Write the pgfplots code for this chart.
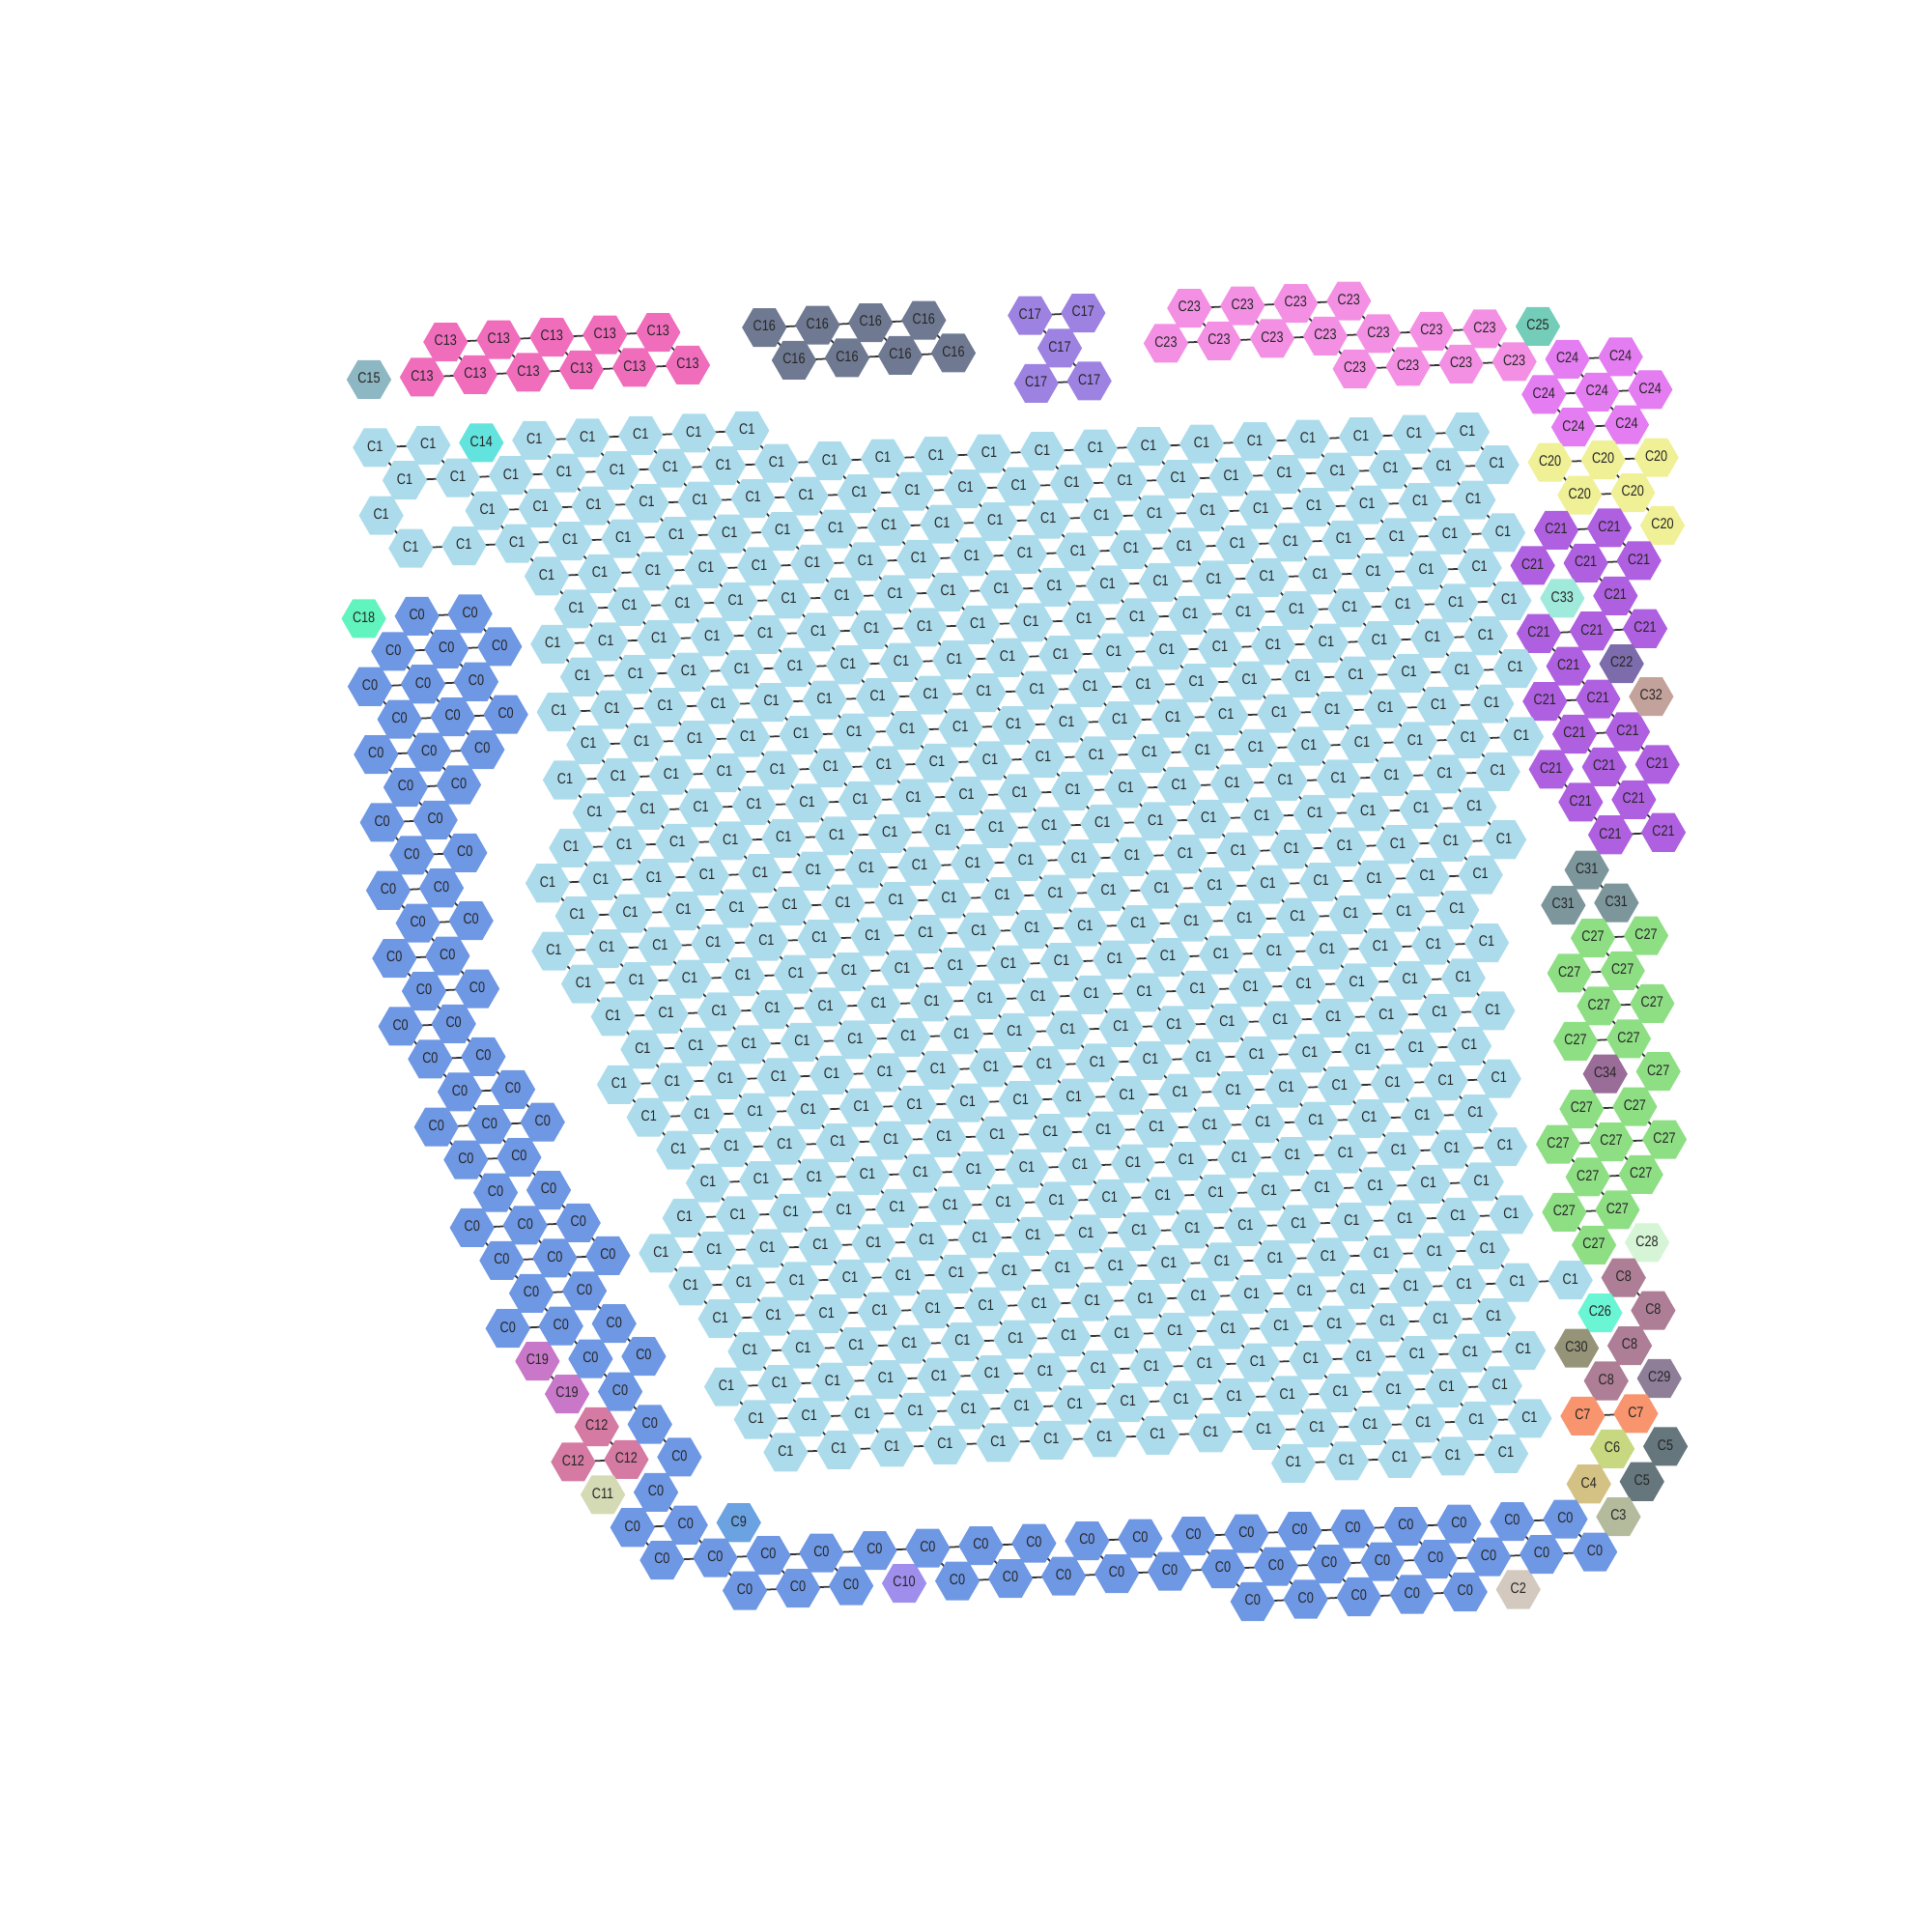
\documentclass[border=0pt]{standalone}
\usepackage{fontspec}
\setmainfont{Liberation Sans}
\newfontfamily\labfam[FakeStretch=0.82]{Liberation Sans}
\newcommand\labfont{\labfam\fontsize{4.4pt}{5pt}\selectfont}
\usepackage{pgfplots}
\usepackage{pgfplotstable}
\pgfplotsset{compat=1.18}

\definecolor{k0}{RGB}{110,151,228}
\definecolor{k1}{RGB}{172,220,236}
\definecolor{k2}{RGB}{211,201,190}
\definecolor{k3}{RGB}{180,186,156}
\definecolor{k4}{RGB}{212,194,132}
\definecolor{k5}{RGB}{101,118,124}
\definecolor{k6}{RGB}{199,216,128}
\definecolor{k7}{RGB}{248,149,110}
\definecolor{k8}{RGB}{173,126,150}
\definecolor{k9}{RGB}{106,162,226}
\definecolor{k10}{RGB}{160,142,236}
\definecolor{k11}{RGB}{212,218,180}
\definecolor{k12}{RGB}{213,122,162}
\definecolor{k13}{RGB}{240,109,188}
\definecolor{k14}{RGB}{98,227,222}
\definecolor{k15}{RGB}{141,183,194}
\definecolor{k16}{RGB}{111,122,146}
\definecolor{k17}{RGB}{157,130,226}
\definecolor{k18}{RGB}{98,244,190}
\definecolor{k19}{RGB}{201,119,201}
\definecolor{k20}{RGB}{240,240,150}
\definecolor{k21}{RGB}{175,96,224}
\definecolor{k22}{RGB}{125,108,172}
\definecolor{k23}{RGB}{244,144,228}
\definecolor{k24}{RGB}{228,124,242}
\definecolor{k25}{RGB}{116,205,184}
\definecolor{k26}{RGB}{106,245,212}
\definecolor{k27}{RGB}{142,223,132}
\definecolor{k28}{RGB}{214,244,214}
\definecolor{k29}{RGB}{142,126,152}
\definecolor{k30}{RGB}{150,148,120}
\definecolor{k31}{RGB}{124,150,156}
\definecolor{k32}{RGB}{196,162,156}
\definecolor{k33}{RGB}{160,234,220}
\definecolor{k34}{RGB}{154,108,152}

% flat-top hexagon marker
\pgfdeclareplotmark{hexagon}{%
  \pgfpathmoveto{\pgfqpoint{\pgfplotmarksize}{0pt}}%
  \pgfpathlineto{\pgfqpoint{0.5\pgfplotmarksize}{0.866\pgfplotmarksize}}%
  \pgfpathlineto{\pgfqpoint{-0.5\pgfplotmarksize}{0.866\pgfplotmarksize}}%
  \pgfpathlineto{\pgfqpoint{-\pgfplotmarksize}{0pt}}%
  \pgfpathlineto{\pgfqpoint{-0.5\pgfplotmarksize}{-0.866\pgfplotmarksize}}%
  \pgfpathlineto{\pgfqpoint{0.5\pgfplotmarksize}{-0.866\pgfplotmarksize}}%
  \pgfpathclose
  \pgfusepathqfillstroke}

% c = column (doubled), r = row, k = cluster, h = edge to right, d = edge to lower right
\pgfplotstableread{
c r k h d
3 -3 13 1 1
5 -3 13 1 1
7 -3 13 1 1
9 -3 13 1 1
11 -3 13 0 1
2 -2 13 1 0
4 -2 13 1 0
6 -2 13 1 0
8 -2 13 1 0
10 -2 13 1 0
12 -2 13 0 0
0 -2 15 0 0
15 -3 16 1 1
17 -3 16 1 1
19 -3 16 1 1
21 -3 16 0 1
16 -2 16 1 0
18 -2 16 1 0
20 -2 16 1 0
22 -2 16 0 0
25 -3 17 1 1
27 -3 17 0 0
26 -2 17 0 1
25 -1 17 1 0
27 -1 17 0 0
31 -3 23 1 1
33 -3 23 1 1
35 -3 23 1 1
37 -3 23 0 1
30 -2 23 1 0
32 -2 23 1 0
34 -2 23 1 0
36 -2 23 1 1
38 -2 23 1 1
40 -2 23 1 1
42 -2 23 0 1
37 -1 23 1 0
39 -1 23 1 0
41 -1 23 1 0
43 -1 23 0 0
44 -2 25 0 0
45 -1 24 1 1
47 -1 24 0 1
44 0 24 1 1
46 0 24 1 1
48 0 24 0 0
45 1 24 1 0
47 1 24 0 0
44 2 20 1 1
46 2 20 1 1
48 2 20 0 0
45 3 20 1 0
47 3 20 0 1
48 4 20 0 0
44 4 21 1 1
46 4 21 0 1
43 5 21 0 0
45 5 21 1 1
47 5 21 0 0
46 6 21 0 1
43 7 21 1 1
45 7 21 1 0
47 7 21 0 0
44 8 21 0 1
43 9 21 1 1
45 9 21 0 1
44 10 21 1 1
46 10 21 0 1
43 11 21 0 1
45 11 21 0 1
47 11 21 0 0
44 12 21 0 1
46 12 21 0 1
45 13 21 1 0
47 13 21 0 0
44 6 33 0 0
46 8 22 0 0
47 9 32 0 0
44 14 31 0 1
43 15 31 0 0
45 15 31 0 0
44 16 27 1 1
46 16 27 0 0
43 17 27 1 1
45 17 27 0 1
44 18 27 1 1
46 18 27 0 0
43 19 27 1 0
45 19 27 0 1
46 20 27 0 0
43 21 27 1 1
45 21 27 0 1
42 22 27 1 1
44 22 27 1 1
46 22 27 0 0
43 23 27 1 1
45 23 27 0 0
42 24 27 1 1
44 24 27 0 0
43 25 27 0 0
44 20 34 0 0
45 25 28 0 0
44 26 8 0 1
45 27 8 0 0
44 28 8 0 0
43 29 8 0 0
43 27 26 0 0
42 28 30 0 0
45 29 29 0 0
42 30 7 1 0
44 30 7 0 0
43 31 6 0 0
45 31 5 0 0
44 32 5 0 0
42 32 4 0 0
43 33 3 0 0
39 35 2 0 0
-1 5 18 0 0
3 27 19 0 1
4 28 19 0 0
5 29 12 0 1
4 30 12 1 0
6 30 12 0 0
5 31 11 0 0
10 32 9 0 0
16 34 10 0 0
4 0 14 0 0
1 5 0 1 1
3 5 0 0 1
0 6 0 1 1
2 6 0 1 1
4 6 0 0 0
-1 7 0 1 1
1 7 0 1 1
3 7 0 0 1
0 8 0 1 1
2 8 0 1 1
4 8 0 0 0
-1 9 0 1 1
1 9 0 1 1
3 9 0 0 0
0 10 0 1 1
2 10 0 0 0
-1 11 0 1 1
1 11 0 0 1
0 12 0 1 1
2 12 0 0 0
-1 13 0 1 1
1 13 0 0 1
0 14 0 1 1
2 14 0 0 0
-1 15 0 1 1
1 15 0 0 1
0 16 0 1 1
2 16 0 0 0
-1 17 0 1 1
1 17 0 0 1
0 18 0 1 1
2 18 0 0 1
1 19 0 1 1
3 19 0 0 1
0 20 0 1 1
2 20 0 1 1
4 20 0 0 0
1 21 0 1 1
3 21 0 0 1
2 22 0 0 1
4 22 0 0 1
1 23 0 1 1
3 23 0 1 1
5 23 0 0 1
2 24 0 1 1
4 24 0 1 1
6 24 0 0 0
3 25 0 1 1
5 25 0 0 1
2 26 0 1 0
4 26 0 0 1
6 26 0 0 1
5 27 0 0 1
7 27 0 0 0
6 28 0 0 1
7 29 0 0 1
8 30 0 0 0
7 31 0 0 1
6 32 0 1 1
8 32 0 0 1
7 33 0 1 0
9 33 0 1 1
11 33 0 1 1
13 33 0 1 1
15 33 0 1 0
17 33 0 1 1
19 33 0 1 1
21 33 0 0 1
23 33 0 1 1
25 33 0 0 1
27 33 0 1 1
29 33 0 1 1
31 33 0 1 1
33 33 0 1 1
35 33 0 1 1
37 33 0 0 1
39 33 0 1 1
41 33 0 0 1
10 34 0 1 0
12 34 0 1 0
14 34 0 0 0
18 34 0 1 0
20 34 0 1 0
22 34 0 1 0
24 34 0 1 0
26 34 0 1 0
28 34 0 1 1
30 34 0 1 1
32 34 0 1 1
34 34 0 1 1
36 34 0 1 1
38 34 0 1 0
40 34 0 1 0
42 34 0 0 0
29 35 0 1 0
31 35 0 1 0
33 35 0 1 0
35 35 0 1 0
37 35 0 0 0
0 0 1 1 1
2 0 1 0 1
6 0 1 1 1
8 0 1 1 1
10 0 1 1 1
12 0 1 1 1
14 0 1 0 1
1 1 1 1 0
3 1 1 1 1
5 1 1 1 1
7 1 1 1 1
9 1 1 1 1
11 1 1 1 1
13 1 1 1 1
15 1 1 1 1
17 1 1 1 1
19 1 1 1 1
21 1 1 1 1
23 1 1 1 1
25 1 1 1 1
27 1 1 1 1
29 1 1 1 1
31 1 1 1 1
33 1 1 1 1
35 1 1 1 1
37 1 1 1 1
39 1 1 1 1
41 1 1 0 1
0 2 1 0 1
4 2 1 1 1
6 2 1 1 1
8 2 1 1 1
10 2 1 1 1
12 2 1 1 1
14 2 1 1 1
16 2 1 1 1
18 2 1 1 1
20 2 1 1 1
22 2 1 1 1
24 2 1 1 1
26 2 1 1 1
28 2 1 1 1
30 2 1 1 1
32 2 1 1 1
34 2 1 1 1
36 2 1 1 1
38 2 1 1 1
40 2 1 1 1
42 2 1 0 0
1 3 1 1 0
3 3 1 1 0
5 3 1 1 1
7 3 1 1 1
9 3 1 1 1
11 3 1 1 1
13 3 1 1 1
15 3 1 1 1
17 3 1 1 1
19 3 1 1 1
21 3 1 1 1
23 3 1 1 1
25 3 1 1 1
27 3 1 1 1
29 3 1 1 1
31 3 1 1 1
33 3 1 1 1
35 3 1 1 1
37 3 1 1 1
39 3 1 1 1
41 3 1 0 1
6 4 1 1 1
8 4 1 1 1
10 4 1 1 1
12 4 1 1 1
14 4 1 1 1
16 4 1 1 1
18 4 1 1 1
20 4 1 1 1
22 4 1 1 1
24 4 1 1 1
26 4 1 1 1
28 4 1 1 1
30 4 1 1 1
32 4 1 1 1
34 4 1 1 1
36 4 1 1 1
38 4 1 1 1
40 4 1 1 1
42 4 1 0 0
7 5 1 1 1
9 5 1 1 1
11 5 1 1 1
13 5 1 1 1
15 5 1 1 1
17 5 1 1 1
19 5 1 1 1
21 5 1 1 1
23 5 1 1 1
25 5 1 1 1
27 5 1 1 1
29 5 1 1 1
31 5 1 1 1
33 5 1 1 1
35 5 1 1 1
37 5 1 1 1
39 5 1 1 1
41 5 1 0 1
6 6 1 1 1
8 6 1 1 1
10 6 1 1 1
12 6 1 1 1
14 6 1 1 1
16 6 1 1 1
18 6 1 1 1
20 6 1 1 1
22 6 1 1 1
24 6 1 1 1
26 6 1 1 1
28 6 1 1 1
30 6 1 1 1
32 6 1 1 1
34 6 1 1 1
36 6 1 1 1
38 6 1 1 1
40 6 1 1 1
42 6 1 0 0
7 7 1 1 1
9 7 1 1 1
11 7 1 1 1
13 7 1 1 1
15 7 1 1 1
17 7 1 1 1
19 7 1 1 1
21 7 1 1 1
23 7 1 1 1
25 7 1 1 1
27 7 1 1 1
29 7 1 1 1
31 7 1 1 1
33 7 1 1 1
35 7 1 1 1
37 7 1 1 1
39 7 1 1 1
41 7 1 0 1
6 8 1 1 1
8 8 1 1 1
10 8 1 1 1
12 8 1 1 1
14 8 1 1 1
16 8 1 1 1
18 8 1 1 1
20 8 1 1 1
22 8 1 1 1
24 8 1 1 1
26 8 1 1 1
28 8 1 1 1
30 8 1 1 1
32 8 1 1 1
34 8 1 1 1
36 8 1 1 1
38 8 1 1 1
40 8 1 1 1
42 8 1 0 0
7 9 1 1 1
9 9 1 1 1
11 9 1 1 1
13 9 1 1 1
15 9 1 1 1
17 9 1 1 1
19 9 1 1 1
21 9 1 1 1
23 9 1 1 1
25 9 1 1 1
27 9 1 1 1
29 9 1 1 1
31 9 1 1 1
33 9 1 1 1
35 9 1 1 1
37 9 1 1 1
39 9 1 1 1
41 9 1 0 1
6 10 1 1 1
8 10 1 1 1
10 10 1 1 1
12 10 1 1 1
14 10 1 1 1
16 10 1 1 1
18 10 1 1 1
20 10 1 1 1
22 10 1 1 1
24 10 1 1 1
26 10 1 1 1
28 10 1 1 1
30 10 1 1 1
32 10 1 1 1
34 10 1 1 1
36 10 1 1 1
38 10 1 1 1
40 10 1 1 1
42 10 1 0 0
7 11 1 1 1
9 11 1 1 1
11 11 1 1 1
13 11 1 1 1
15 11 1 1 1
17 11 1 1 1
19 11 1 1 1
21 11 1 1 1
23 11 1 1 1
25 11 1 1 1
27 11 1 1 1
29 11 1 1 1
31 11 1 1 1
33 11 1 1 1
35 11 1 1 1
37 11 1 1 1
39 11 1 1 1
41 11 1 0 0
6 12 1 1 1
8 12 1 1 1
10 12 1 1 1
12 12 1 1 1
14 12 1 1 1
16 12 1 1 1
18 12 1 1 1
20 12 1 1 1
22 12 1 1 1
24 12 1 1 1
26 12 1 1 1
28 12 1 1 1
30 12 1 1 1
32 12 1 1 1
34 12 1 1 1
36 12 1 1 1
38 12 1 1 1
40 12 1 0 1
5 13 1 1 1
7 13 1 1 1
9 13 1 1 1
11 13 1 1 1
13 13 1 1 1
15 13 1 1 1
17 13 1 1 1
19 13 1 1 1
21 13 1 1 1
23 13 1 1 1
25 13 1 1 1
27 13 1 1 1
29 13 1 1 1
31 13 1 1 1
33 13 1 1 1
35 13 1 1 1
37 13 1 1 1
39 13 1 1 1
41 13 1 0 0
6 14 1 1 1
8 14 1 1 1
10 14 1 1 1
12 14 1 1 1
14 14 1 1 1
16 14 1 1 1
18 14 1 1 1
20 14 1 1 1
22 14 1 1 1
24 14 1 1 1
26 14 1 1 1
28 14 1 1 1
30 14 1 1 1
32 14 1 1 1
34 14 1 1 1
36 14 1 1 1
38 14 1 1 1
40 14 1 0 0
5 15 1 1 1
7 15 1 1 1
9 15 1 1 1
11 15 1 1 1
13 15 1 1 1
15 15 1 1 1
17 15 1 1 1
19 15 1 1 1
21 15 1 1 1
23 15 1 1 1
25 15 1 1 1
27 15 1 1 1
29 15 1 1 1
31 15 1 1 1
33 15 1 1 1
35 15 1 1 1
37 15 1 1 1
39 15 1 0 1
6 16 1 1 1
8 16 1 1 1
10 16 1 1 1
12 16 1 1 1
14 16 1 1 1
16 16 1 1 1
18 16 1 1 1
20 16 1 1 1
22 16 1 1 1
24 16 1 1 1
26 16 1 1 1
28 16 1 1 1
30 16 1 1 1
32 16 1 1 1
34 16 1 1 1
36 16 1 1 1
38 16 1 1 1
40 16 1 0 0
7 17 1 1 1
9 17 1 1 1
11 17 1 1 1
13 17 1 1 1
15 17 1 1 1
17 17 1 1 1
19 17 1 1 1
21 17 1 1 1
23 17 1 1 1
25 17 1 1 1
27 17 1 1 1
29 17 1 1 1
31 17 1 1 1
33 17 1 1 1
35 17 1 1 1
37 17 1 1 1
39 17 1 0 1
8 18 1 1 1
10 18 1 1 1
12 18 1 1 1
14 18 1 1 1
16 18 1 1 1
18 18 1 1 1
20 18 1 1 1
22 18 1 1 1
24 18 1 1 1
26 18 1 1 1
28 18 1 1 1
30 18 1 1 1
32 18 1 1 1
34 18 1 1 1
36 18 1 1 1
38 18 1 1 1
40 18 1 0 0
7 19 1 1 1
9 19 1 1 1
11 19 1 1 1
13 19 1 1 1
15 19 1 1 1
17 19 1 1 1
19 19 1 1 1
21 19 1 1 1
23 19 1 1 1
25 19 1 1 1
27 19 1 1 1
29 19 1 1 1
31 19 1 1 1
33 19 1 1 1
35 19 1 1 1
37 19 1 1 1
39 19 1 0 1
8 20 1 1 1
10 20 1 1 1
12 20 1 1 1
14 20 1 1 1
16 20 1 1 1
18 20 1 1 1
20 20 1 1 1
22 20 1 1 1
24 20 1 1 1
26 20 1 1 1
28 20 1 1 1
30 20 1 1 1
32 20 1 1 1
34 20 1 1 1
36 20 1 1 1
38 20 1 1 1
40 20 1 0 0
9 21 1 1 1
11 21 1 1 1
13 21 1 1 1
15 21 1 1 1
17 21 1 1 1
19 21 1 1 1
21 21 1 1 1
23 21 1 1 1
25 21 1 1 1
27 21 1 1 1
29 21 1 1 1
31 21 1 1 1
33 21 1 1 1
35 21 1 1 1
37 21 1 1 1
39 21 1 0 1
10 22 1 1 1
12 22 1 1 1
14 22 1 1 1
16 22 1 1 1
18 22 1 1 1
20 22 1 1 1
22 22 1 1 1
24 22 1 1 1
26 22 1 1 1
28 22 1 1 1
30 22 1 1 1
32 22 1 1 1
34 22 1 1 1
36 22 1 1 1
38 22 1 1 1
40 22 1 0 0
9 23 1 1 1
11 23 1 1 1
13 23 1 1 1
15 23 1 1 1
17 23 1 1 1
19 23 1 1 1
21 23 1 1 1
23 23 1 1 1
25 23 1 1 1
27 23 1 1 1
29 23 1 1 1
31 23 1 1 1
33 23 1 1 1
35 23 1 1 1
37 23 1 1 1
39 23 1 0 1
8 24 1 1 1
10 24 1 1 1
12 24 1 1 1
14 24 1 1 1
16 24 1 1 1
18 24 1 1 1
20 24 1 1 1
22 24 1 1 1
24 24 1 1 1
26 24 1 1 1
28 24 1 1 1
30 24 1 1 1
32 24 1 1 1
34 24 1 1 1
36 24 1 1 1
38 24 1 1 1
40 24 1 0 0
9 25 1 1 1
11 25 1 1 1
13 25 1 1 1
15 25 1 1 1
17 25 1 1 1
19 25 1 1 1
21 25 1 1 1
23 25 1 1 1
25 25 1 1 1
27 25 1 1 1
29 25 1 1 1
31 25 1 1 1
33 25 1 1 1
35 25 1 1 1
37 25 1 1 1
39 25 1 0 1
10 26 1 1 1
12 26 1 1 1
14 26 1 1 1
16 26 1 1 1
18 26 1 1 1
20 26 1 1 1
22 26 1 1 1
24 26 1 1 1
26 26 1 1 1
28 26 1 1 1
30 26 1 1 1
32 26 1 1 1
34 26 1 1 1
36 26 1 1 1
38 26 1 1 1
40 26 1 1 0
42 26 1 0 0
11 27 1 1 1
13 27 1 1 1
15 27 1 1 1
17 27 1 1 1
19 27 1 1 1
21 27 1 1 1
23 27 1 1 1
25 27 1 1 1
27 27 1 1 1
29 27 1 1 1
31 27 1 1 1
33 27 1 1 1
35 27 1 1 1
37 27 1 1 1
39 27 1 0 1
10 28 1 1 1
12 28 1 1 1
14 28 1 1 1
16 28 1 1 1
18 28 1 1 1
20 28 1 1 1
22 28 1 1 1
24 28 1 1 1
26 28 1 1 1
28 28 1 1 1
30 28 1 1 1
32 28 1 1 1
34 28 1 1 1
36 28 1 1 1
38 28 1 1 1
40 28 1 0 0
11 29 1 1 1
13 29 1 1 1
15 29 1 1 1
17 29 1 1 1
19 29 1 1 1
21 29 1 1 1
23 29 1 1 1
25 29 1 1 1
27 29 1 1 1
29 29 1 1 1
31 29 1 1 1
33 29 1 1 1
35 29 1 1 1
37 29 1 1 1
39 29 1 0 1
12 30 1 1 0
14 30 1 1 0
16 30 1 1 0
18 30 1 1 0
20 30 1 1 0
22 30 1 1 0
24 30 1 1 0
26 30 1 1 0
28 30 1 1 0
30 30 1 1 1
32 30 1 1 1
34 30 1 1 1
36 30 1 1 1
38 30 1 1 1
40 30 1 0 0
31 31 1 1 0
33 31 1 1 0
35 31 1 1 0
37 31 1 1 0
39 31 1 0 0
}\spots

\begin{document}
\begin{tikzpicture}
\useasboundingbox (0,0) rectangle (200mm,200mm);
\begin{axis}[
  x={(2.75mm,0.125mm)}, y={(0.317mm,-3.517mm)},
  disabledatascaling,
  anchor=origin, at={(38.83mm,153.67mm)},
  xmin=-3, xmax=50, ymin=-5, ymax=37,
  hide axis, clip=false,
]
% edges between neighbouring spots of one cluster
\addplot[no markers, draw=black!80, line width=0.5pt,
  quiver={u={2*\thisrow{h}}, v=0}] table[x=c, y=r] {\spots};
\addplot[no markers, draw=black!80, line width=0.5pt,
  quiver={u=\thisrow{d}, v=\thisrow{d}}] table[x=c, y=r] {\spots};
% spots, coloured by cluster
\addplot[scatter, only marks, mark=hexagon, mark size=2.23mm,
  point meta=explicit symbolic,
  scatter/classes={
    0={color=k0}, 1={color=k1}, 2={color=k2}, 3={color=k3}, 4={color=k4},
    5={color=k5}, 6={color=k6}, 7={color=k7}, 8={color=k8}, 9={color=k9},
    10={color=k10}, 11={color=k11}, 12={color=k12}, 13={color=k13}, 14={color=k14},
    15={color=k15}, 16={color=k16}, 17={color=k17}, 18={color=k18}, 19={color=k19},
    20={color=k20}, 21={color=k21}, 22={color=k22}, 23={color=k23}, 24={color=k24},
    25={color=k25}, 26={color=k26}, 27={color=k27}, 28={color=k28}, 29={color=k29},
    30={color=k30}, 31={color=k31}, 32={color=k32}, 33={color=k33}, 34={color=k34}},
] table[x=c, y=r, meta=k] {\spots};
% cluster labels
\addplot[only marks, mark=none, point meta=explicit symbolic,
  nodes near coords={\smash{\makebox[0pt]{\raisebox{-0.36em}{C\pgfplotspointmeta}}}},
  every node near coord/.append style={font=\labfont, text=black!85, inner sep=0pt, outer sep=0pt},
] table[x=c, y=r, meta=k] {\spots};
\end{axis}
\end{tikzpicture}
\end{document}
